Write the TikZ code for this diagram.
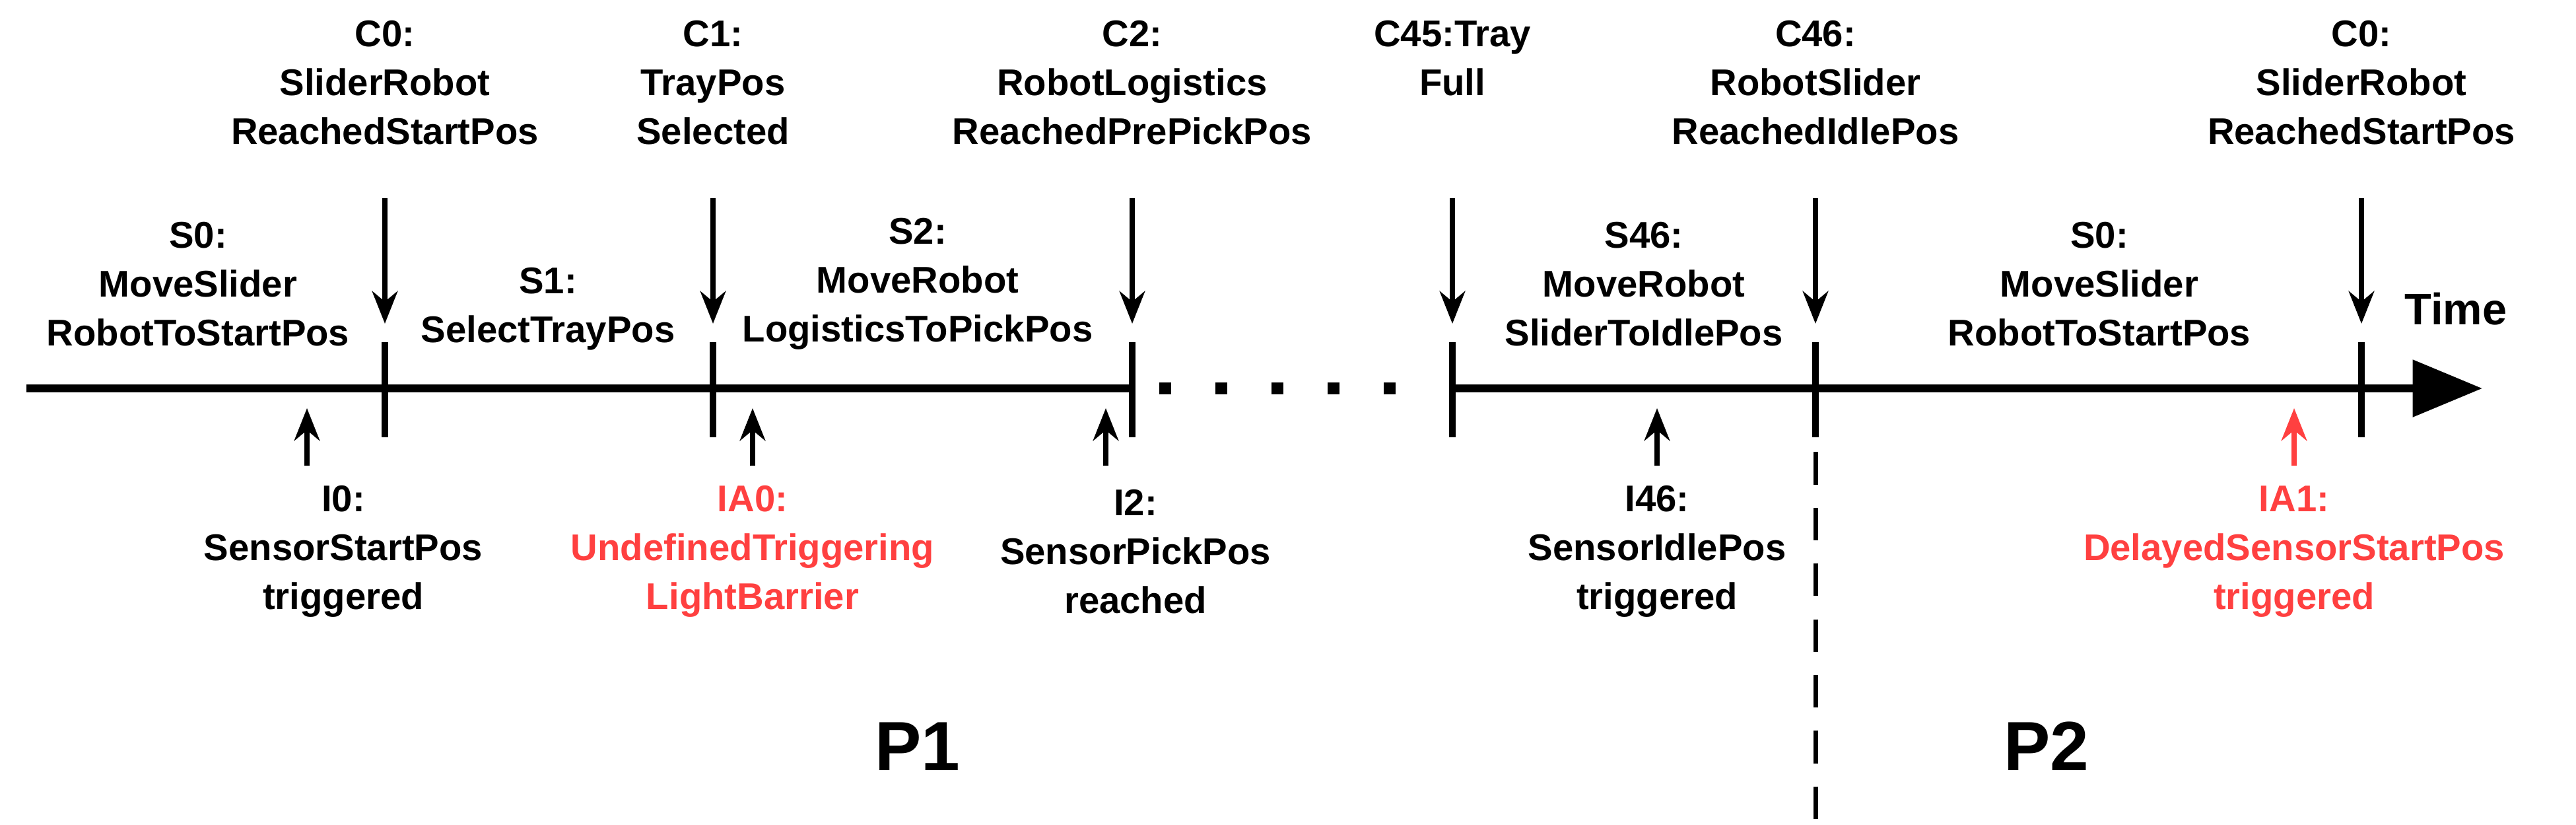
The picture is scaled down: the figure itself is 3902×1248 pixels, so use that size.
\documentclass[tikz,border=0pt]{standalone}
\usepackage{fontspec}
\setmainfont{Liberation Sans}
\usetikzlibrary{arrows.meta}
\definecolor{myred}{RGB}{255,64,64}
\begin{document}
\begin{tikzpicture}[x=0.01cm,y=-0.01cm,
 lbl/.style={font=\fontsize{16}{21}\selectfont\bfseries,align=center,inner sep=0},
 arr/.style={line width=2.2pt,-{Stealth[length=14pt,width=11pt]}},
 tick/.style={line width=3pt}]
\useasboundingbox (0,0) rectangle (3902,1248);
\coordinate (L) at (40,588);
\coordinate (M1) at (1715,588);
\coordinate (M2) at (2200,588);
\coordinate (R) at (3760,588);
\draw[line width=3.2pt] (L) -- (M1);
\draw[line width=3.2pt,-{Triangle[length=30pt,width=24pt]}] (M2) -- (R);
\foreach \n/\x in {t0/583,t1/1080,t2/1715,t45/2200,t46/2750,t0b/3577}{
 \coordinate (\n a) at (\x,518); \coordinate (\n b) at (\x,662);
 \draw[tick] (\n a) -- (\n b);
 \coordinate (\n c) at (\x,300); \coordinate (\n d) at (\x,490);
 \draw[arr] (\n c) -- (\n d);}
\foreach \x in {1765,1850,1935,2020,2105}{\fill (\x-9,579) rectangle (\x+9,597);}
\coordinate (da) at (2750,600); \coordinate (db) at (2750,1248);
\draw[line width=2pt,dash pattern=on 14pt off 10pt] (da) -- (db);
\node[lbl] (c0) at (583,125) {C0:\\SliderRobot\\ReachedStartPos};
\node[lbl] (c1) at (1080,125) {C1:\\TrayPos\\Selected};
\node[lbl] (c2) at (1715,125) {C2:\\RobotLogistics\\ReachedPrePickPos};
\node[lbl] (c45) at (2200,88) {C45:Tray\\Full};
\node[lbl] (c46) at (2750,125) {C46:\\RobotSlider\\ReachedIdlePos};
\node[lbl] (c0b) at (3577,125) {C0:\\SliderRobot\\ReachedStartPos};
\node[lbl] (s0) at (300,430) {S0:\\MoveSlider\\RobotToStartPos};
\node[lbl] (s1) at (830,468) {S1:\\SelectTrayPos};
\node[lbl] (s2) at (1390,430) {S2:\\MoveRobot\\LogisticsToPickPos};
\node[lbl] (s46) at (2490,430) {S46:\\MoveRobot\\SliderToIdlePos};
\node[lbl] (s0b) at (3180,430) {S0:\\MoveSlider\\RobotToStartPos};
\node[lbl,font=\fontsize{19}{23}\selectfont\bfseries] (time) at (3720,468) {Time};
\foreach \n/\x/\c in {a0/465/black,a1/1140/black,a2/1675/black,a3/2510/black,a4/3475/myred}{
 \coordinate (\n s) at (\x,705); \coordinate (\n e) at (\x,618);
 \draw[arr,\c] (\n s) -- (\n e);}
\node[lbl] (i0) at (520,835) {I0:\\SensorStartPos\\triggered};
\node[lbl,text=myred] (ia0) at (1140,835) {IA0:\\UndefinedTriggering\\LightBarrier};
\node[lbl] (i2) at (1720,835) {I2:\\SensorPickPos\\reached};
\node[lbl] (i46) at (2510,835) {I46:\\SensorIdlePos\\triggered};
\node[lbl,text=myred] (ia1) at (3475,835) {IA1:\\DelayedSensorStartPos\\triggered};
\node[lbl,font=\fontsize{30}{36}\selectfont\bfseries] (p1) at (1390,1130) {P1};
\node[lbl,font=\fontsize{30}{36}\selectfont\bfseries] (p2) at (3100,1130) {P2};
\end{tikzpicture}
\end{document}
